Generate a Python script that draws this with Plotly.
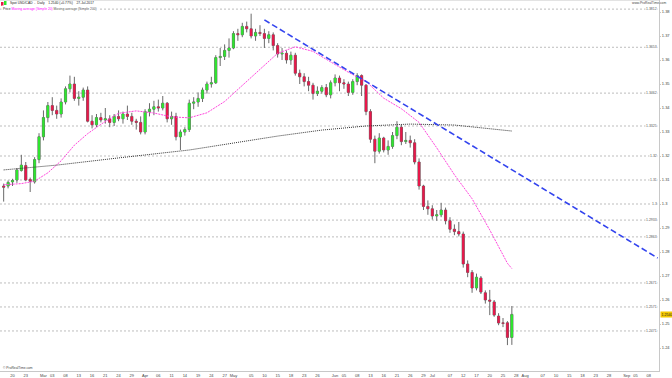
import plotly.graph_objects as go
import pandas as pd

# ---------------- data ----------------
dates = [d.strftime("%Y-%m-%d") for d in pd.bdate_range("2017-02-16", "2017-07-27")]

opens = [1.3075, 1.3075, 1.3092, 1.3100, 1.3140, 1.3160, 1.3102, 1.3092, 1.3185,
         1.3280, 1.3360, 1.3410, 1.3390, 1.3375, 1.3425, 1.3480, 1.3500, 1.3440, 1.3445,
         1.3475, 1.3345, 1.3330, 1.3360, 1.3350, 1.3355, 1.3340, 1.3365, 1.3355, 1.3375,
         1.3365, 1.3345, 1.3340,
         1.3300, 1.3385, 1.3395, 1.3405, 1.3400, 1.3420, 1.3355, 1.3365, 1.3280, 1.3300,
         1.3310, 1.3420, 1.3425, 1.3440, 1.3475, 1.3500, 1.3505, 1.3610, 1.3615, 1.3640,
         1.3650, 1.3710, 1.3705, 1.3740, 1.3730, 1.3700, 1.3715, 1.3710, 1.3690, 1.3705,
         1.3660, 1.3625, 1.3628, 1.3600, 1.3620, 1.3545, 1.3530, 1.3510, 1.3495, 1.3460,
         1.3470, 1.3485, 1.3455,
         1.3505, 1.3525, 1.3505, 1.3500, 1.3465, 1.3510, 1.3535, 1.3495, 1.3385, 1.3270,
         1.3220, 1.3275, 1.3225, 1.3240, 1.3285, 1.3320, 1.3260, 1.3265, 1.3255, 1.3175,
         1.3075, 1.2990,
         1.2980, 1.2950, 1.2955, 1.2975, 1.2930, 1.2895, 1.2885, 1.2875, 1.2750, 1.2715,
         1.2650, 1.2692, 1.2630, 1.2600, 1.2592, 1.2533, 1.2505, 1.2505, 1.2444]
highs = [1.3085, 1.3098, 1.3105, 1.3150, 1.3205, 1.3175, 1.3110, 1.3195, 1.3295,
         1.3390, 1.3425, 1.3445, 1.3410, 1.3440, 1.3490, 1.3535, 1.3530, 1.3470, 1.3485,
         1.3490, 1.3370, 1.3375, 1.3380, 1.3400, 1.3370, 1.3375, 1.3390, 1.3385, 1.3410,
         1.3380, 1.3355, 1.3365,
         1.3395, 1.3420, 1.3430, 1.3435, 1.3450, 1.3425, 1.3385, 1.3380, 1.3310, 1.3320,
         1.3435, 1.3445, 1.3465, 1.3485, 1.3510, 1.3530, 1.3620, 1.3650, 1.3665, 1.3690,
         1.3720, 1.3730, 1.3755, 1.3760, 1.3793, 1.3730, 1.3745, 1.3730, 1.3720, 1.3715,
         1.3670, 1.3650, 1.3640, 1.3635, 1.3630, 1.3560, 1.3545, 1.3530, 1.3505, 1.3490,
         1.3495, 1.3500, 1.3515,
         1.3540, 1.3535, 1.3520, 1.3510, 1.3520, 1.3545, 1.3540, 1.3500, 1.3395, 1.3285,
         1.3295, 1.3280, 1.3265, 1.3300, 1.3345, 1.3330, 1.3300, 1.3285, 1.3270, 1.3190,
         1.3080, 1.3015,
         1.2995, 1.2975, 1.3005, 1.2985, 1.2945, 1.2915, 1.2925, 1.2885, 1.2765, 1.2725,
         1.2710, 1.2700, 1.2640, 1.2642, 1.2600, 1.2545, 1.2525, 1.2512, 1.2575]
lows = [1.3010, 1.3065, 1.3075, 1.3088, 1.3135, 1.3095, 1.3050, 1.3085, 1.3170,
        1.3265, 1.3340, 1.3370, 1.3355, 1.3360, 1.3415, 1.3465, 1.3430, 1.3410, 1.3430,
        1.3340, 1.3315, 1.3320, 1.3340, 1.3335, 1.3320, 1.3325, 1.3345, 1.3335, 1.3350,
        1.3330, 1.3310, 1.3290,
        1.3290, 1.3365, 1.3370, 1.3385, 1.3390, 1.3340, 1.3330, 1.3265, 1.3225, 1.3285,
        1.3300, 1.3395, 1.3405, 1.3425, 1.3460, 1.3485, 1.3500, 1.3575, 1.3600, 1.3610,
        1.3645, 1.3680, 1.3695, 1.3715, 1.3690, 1.3680, 1.3700, 1.3650, 1.3670, 1.3640,
        1.3610, 1.3600, 1.3585, 1.3580, 1.3535, 1.3500, 1.3490, 1.3470, 1.3435, 1.3450,
        1.3460, 1.3445, 1.3440,
        1.3490, 1.3470, 1.3480, 1.3450, 1.3455, 1.3495, 1.3450, 1.3370, 1.3255, 1.3170,
        1.3210, 1.3215, 1.3205, 1.3230, 1.3270, 1.3245, 1.3250, 1.3235, 1.3165, 1.3060,
        1.2975, 1.2955,
        1.2935, 1.2930, 1.2945, 1.2915, 1.2880, 1.2870, 1.2865, 1.2735, 1.2695, 1.2630,
        1.2640, 1.2625, 1.2585, 1.2537, 1.2530, 1.2495, 1.2487, 1.2412, 1.2413]
closes = [1.3070, 1.3090, 1.3098, 1.3142, 1.3162, 1.3100, 1.3095, 1.3185, 1.3280,
          1.3360, 1.3410, 1.3390, 1.3375, 1.3425, 1.3480, 1.3500, 1.3440, 1.3445, 1.3475,
          1.3345, 1.3330, 1.3360, 1.3350, 1.3355, 1.3340, 1.3365, 1.3355, 1.3375, 1.3365,
          1.3345, 1.3340, 1.3300,
          1.3385, 1.3395, 1.3405, 1.3400, 1.3420, 1.3355, 1.3365, 1.3280, 1.3300, 1.3310,
          1.3420, 1.3425, 1.3440, 1.3475, 1.3500, 1.3505, 1.3610, 1.3615, 1.3640, 1.3650,
          1.3710, 1.3705, 1.3740, 1.3730, 1.3700, 1.3715, 1.3710, 1.3690, 1.3705, 1.3660,
          1.3625, 1.3628, 1.3600, 1.3620, 1.3545, 1.3530, 1.3510, 1.3495, 1.3460, 1.3470,
          1.3485, 1.3455, 1.3505,
          1.3525, 1.3505, 1.3500, 1.3465, 1.3510, 1.3535, 1.3495, 1.3385, 1.3270, 1.3220,
          1.3275, 1.3225, 1.3240, 1.3285, 1.3320, 1.3260, 1.3265, 1.3255, 1.3175, 1.3075,
          1.2990, 1.2980,
          1.2950, 1.2955, 1.2975, 1.2930, 1.2895, 1.2885, 1.2875, 1.2750, 1.2715, 1.2650,
          1.2695, 1.2633, 1.2600, 1.2595, 1.2537, 1.2504, 1.2502, 1.2444, 1.2540]

# moving averages (date, value)
ma20_dates = ["2017-02-16", "2017-02-22", "2017-02-27", "2017-03-02", "2017-03-07",
              "2017-03-10", "2017-03-15", "2017-03-20", "2017-03-24", "2017-03-30",
              "2017-04-05", "2017-04-11", "2017-04-17", "2017-04-21", "2017-04-27",
              "2017-05-03", "2017-05-09", "2017-05-15", "2017-05-19", "2017-05-25",
              "2017-05-31", "2017-06-06", "2017-06-12", "2017-06-16", "2017-06-22",
              "2017-06-28", "2017-07-04", "2017-07-10", "2017-07-14", "2017-07-20",
              "2017-07-26", "2017-07-27"]
ma20_vals = [1.3080, 1.3085, 1.3095, 1.3130, 1.3180, 1.3245, 1.3293, 1.3332, 1.3378,
             1.3388, 1.3379, 1.3363, 1.3359, 1.3380, 1.3427, 1.3493, 1.3559, 1.3628,
             1.3655, 1.3636, 1.3592, 1.3549, 1.3511, 1.3441, 1.3397, 1.3340, 1.3234,
             1.3122, 1.3022, 1.2892, 1.2753, 1.2731]
ma200_dates = ["2017-02-16", "2017-03-06", "2017-03-24", "2017-04-17", "2017-05-01",
               "2017-05-15", "2017-05-29", "2017-06-12", "2017-06-26", "2017-07-10",
               "2017-07-27"]
ma200_vals = [1.3142, 1.3162, 1.3192, 1.3225, 1.3254, 1.3283, 1.3308, 1.3325, 1.3333,
              1.3329, 1.3304]

# x-axis labels (date, text)
tick_dates = ["2017-02-20", "2017-02-23", "2017-03-01", "2017-03-03", "2017-03-08",
              "2017-03-13", "2017-03-16", "2017-03-21", "2017-03-24", "2017-03-29",
              "2017-04-03", "2017-04-06", "2017-04-11", "2017-04-14", "2017-04-19",
              "2017-04-24", "2017-04-27", "2017-05-01", "2017-05-05", "2017-05-10",
              "2017-05-15", "2017-05-18", "2017-05-23", "2017-05-26", "2017-06-01",
              "2017-06-05", "2017-06-08", "2017-06-13", "2017-06-16", "2017-06-21",
              "2017-06-26", "2017-06-29", "2017-07-03", "2017-07-07", "2017-07-12",
              "2017-07-17", "2017-07-20", "2017-07-25", "2017-07-28", "2017-08-01",
              "2017-08-07", "2017-08-10", "2017-08-15", "2017-08-18", "2017-08-23",
              "2017-08-28", "2017-09-01", "2017-09-05", "2017-09-08"]
tick_text = ["20", "23", "Mar", "03", "08", "13", "16", "21", "24", "29", "Apr", "06",
             "11", "14", "19", "24", "27", "May", "05", "10", "15", "18", "23", "26",
             "Jun", "05", "08", "13", "16", "21", "26", "29", "Jul", "07", "12", "17",
             "20", "25", "28", "Aug", "07", "10", "15", "18", "23", "28", "Sep", "05", "08"]

price_ticks = [1.24, 1.25, 1.26, 1.27, 1.28, 1.29, 1.30, 1.31, 1.32, 1.33, 1.34, 1.35,
               1.36, 1.37, 1.38]
price_tick_text = ["1.24", "1.25", "1.26", "1.27", "1.28", "1.29", "1.3", "1.31", "1.32",
                   "1.33", "1.34", "1.35", "1.36", "1.37", "1.38"]
level_vals = [1.3812, 1.3653, 1.3462, 1.3325, 1.32, 1.31, 1.30, 1.2933, 1.2863,
              1.2671, 1.2571, 1.2471]
level_text = ["1.3812", "1.3653", "1.3462", "1.3325", "1.32", "1.31", "1.3", "1.2933",
              "1.2863", "1.2671", "1.2571", "1.2471"]
trend_dates = ["2017-05-10", "2017-09-12"]
trend_vals = [1.3767, 1.2775]
last_price = 1.2540

# ---------------- mapping dates to trading-day index ----------------
all_days = [d.strftime("%Y-%m-%d") for d in pd.bdate_range("2017-02-13", "2017-09-20")]
base = all_days.index("2017-02-20")
pos = {d: i - base for i, d in enumerate(all_days)}

x = [pos[d] for d in dates]

W, H = 672, 378
ML, MR, MT, MB = 0, 13, 0, 7
PW, PH = W - ML - MR, H - MT - MB
FONT = "Liberation Sans"


def px(v):
    return v / PW


def py(v):
    return 1 - v / PH


fig = go.Figure()

# candles: first with grey wicks/outline, then coloured bodies on top
fig.add_trace(go.Candlestick(
    x=x, open=opens, high=highs, low=lows, close=closes,
    increasing=dict(line=dict(color="#6a6a6a", width=1), fillcolor="#2ee62e"),
    decreasing=dict(line=dict(color="#6a6a6a", width=1), fillcolor="#e8174a"),
    whiskerwidth=0, hoverinfo="skip", showlegend=False))
fig.add_trace(go.Candlestick(
    x=x, open=opens, high=opens, low=closes, close=closes,
    increasing=dict(line=dict(color="rgba(0,0,0,0)", width=0), fillcolor="#2ee62e"),
    decreasing=dict(line=dict(color="rgba(0,0,0,0)", width=0), fillcolor="#e8174a"),
    whiskerwidth=0, hoverinfo="skip", showlegend=False))

fig.add_trace(go.Scatter(x=[pos[d] for d in ma20_dates], y=ma20_vals, mode="lines",
                         line=dict(color="#ff44dd", width=1, dash="2px,1px"),
                         showlegend=False, hoverinfo="skip"))
fig.add_trace(go.Scatter(x=[pos[d] for d in ma200_dates], y=ma200_vals, mode="lines",
                         line=dict(color="#333333", width=1, dash="1px,1px"),
                         showlegend=False, hoverinfo="skip"))
fig.add_trace(go.Scatter(x=[pos[d] for d in trend_dates], y=trend_vals, mode="lines",
                         line=dict(color="#3344ee", width=1.6, dash="6px,3px"),
                         showlegend=False, hoverinfo="skip"))

# horizontal levels
for v, t in zip(level_vals, level_text):
    fig.add_shape(type="line", xref="paper", x0=0, x1=1, yref="y", y0=v, y1=v,
                  line=dict(color="#bdbdbd", width=1, dash="2px,2px"), layer="below")
    fig.add_annotation(xref="paper", x=px(PW - 1), yref="y", y=v, text=t,
                       showarrow=False, xanchor="right", yanchor="middle",
                       font=dict(size=3.5, color="#555", family=FONT),
                       bgcolor="white", borderpad=0)

# top border
fig.add_shape(type="line", xref="paper", x0=0, x1=1, yref="paper", y0=1, y1=1,
              line=dict(color="#c8c8c8", width=1))

# header
fig.add_shape(type="rect", xref="paper", yref="paper", x0=px(1), x1=px(3.5),
              y0=py(6), y1=py(2), fillcolor="#e8174a", line=dict(width=0))
fig.add_shape(type="rect", xref="paper", yref="paper", x0=px(4), x1=px(6.5),
              y0=py(5), y1=py(1), fillcolor="#2ee62e", line=dict(width=0))
fig.add_annotation(xref="paper", yref="paper", x=px(8), y=py(3.5),
                   text="Spot USD/CAD  -  Daily    1.2540 (+0.77%)    27-Jul-2017",
                   showarrow=False, xanchor="left", yanchor="middle",
                   font=dict(size=3.3, color="#222", family=FONT))
fig.add_annotation(xref="paper", yref="paper", x=px(1), y=py(9),
                   text="Price <span style='color:#ff00ff'>Moving average (Simple 20)</span>"
                        " <span style='color:#555'>Moving average (Simple 200)</span>",
                   showarrow=False, xanchor="left", yanchor="middle", bgcolor="white",
                   font=dict(size=3.3, color="#222", family=FONT))
fig.add_annotation(xref="paper", yref="paper", x=px(668), y=py(3.5),
                   text="www.ProRealTime.com", showarrow=False,
                   xanchor="right", yanchor="middle",
                   font=dict(size=3.3, color="#444", family=FONT))
fig.add_annotation(xref="paper", yref="paper", x=px(1), y=py(PH - 3),
                   text="© ProRealTime.com", showarrow=False,
                   xanchor="left", yanchor="middle",
                   font=dict(size=3.3, color="#444", family=FONT))
# last price tag
fig.add_annotation(xref="paper", yref="y", x=1.0, y=last_price, text="1.2540",
                   showarrow=False, xanchor="left", yanchor="middle", xshift=1,
                   bgcolor="#f4c800", borderpad=0.5,
                   font=dict(size=3.6, color="#222", family=FONT))

fig.update_layout(
    width=W, height=H,
    margin=dict(l=ML, r=MR, t=MT, b=MB),
    paper_bgcolor="white", plot_bgcolor="white",
    showlegend=False,
    xaxis=dict(range=[-2.83, 146.3], tickmode="array",
               tickvals=[pos[d] for d in tick_dates], ticktext=tick_text,
               showgrid=False, zeroline=False, showline=True, linecolor="#c8c8c8",
               ticks="", ticklabeloverflow="allow",
               tickfont=dict(size=4, color="#444", family=FONT),
               rangeslider=dict(visible=False), fixedrange=True),
    yaxis=dict(side="right", range=[1.38 - (PH - 12) / 2400, 1.38 + 12 / 2400],
               tickmode="array", tickvals=price_ticks, ticktext=price_tick_text,
               showgrid=False, zeroline=False, showline=True, linecolor="#c8c8c8",
               ticks="outside", ticklen=1, tickcolor="#c8c8c8", ticklabeloverflow="allow",
               tickfont=dict(size=4, color="#444", family=FONT),
               fixedrange=True),
)

fig.write_html("out.html", config={"displayModeBar": False},
               post_script="document.body.style.margin='0';document.body.style.padding='0';"
                           "document.documentElement.style.overflow='hidden';")
